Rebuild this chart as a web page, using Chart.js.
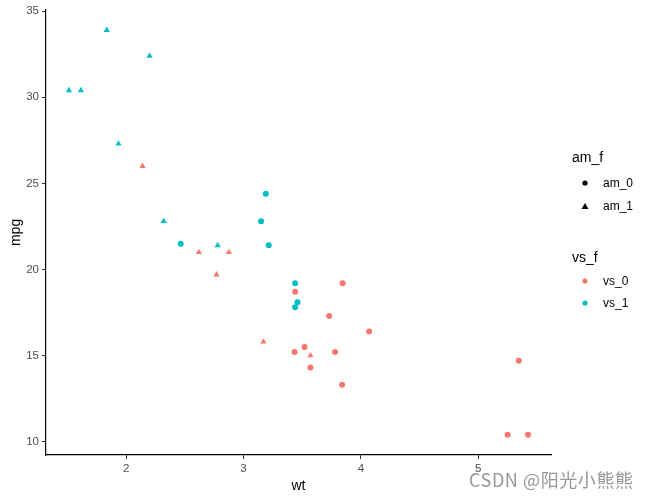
<!DOCTYPE html>
<html><head><meta charset="utf-8">
<script src="https://cdn.jsdelivr.net/npm/chart.js@4/dist/chart.umd.min.js"></script>
<style>html,body{margin:0;padding:0;background:#fff}#wrap{width:650px;height:500px;position:relative}</style>
</head><body><div id="wrap"><canvas id="c" width="650" height="500"></canvas></div>
<script>
// mtcars: weight (wt), miles per gallon (mpg), engine shape (vs), transmission (am)
const wt  = [2.620,2.875,2.320,3.215,3.440,3.460,3.570,3.190,3.150,3.440,3.440,4.070,3.730,3.780,5.250,5.424,5.345,2.200,1.615,1.835,2.465,3.520,3.435,3.840,3.845,1.935,2.140,1.513,3.170,2.770,3.570,2.780];
const mpg = [21.0,21.0,22.8,21.4,18.7,18.1,14.3,24.4,22.8,19.2,17.8,16.4,17.3,15.2,10.4,10.4,14.7,32.4,30.4,33.9,21.5,15.5,15.2,13.3,19.2,27.3,26.0,30.4,15.8,19.7,15.0,21.4];
const vs  = [0,0,1,1,0,1,0,1,1,1,1,0,0,0,0,0,0,1,1,1,1,0,0,0,0,1,0,1,0,0,0,1];
const am  = [1,1,1,0,0,0,0,0,0,0,0,0,0,0,0,0,0,1,1,1,0,0,0,0,0,1,1,1,1,1,1,1];
const xTicks = [2,3,4,5];
const yTicks = [10,15,20,25,30,35];
const vsLevels = ['vs_0','vs_1'];
const amLevels = ['am_0','am_1'];
const vsColors = ['#F8766D','#00BFC4'];
const amShapes = ['circle','triangle'];

const datasets = [];
for (let a = 0; a < 2; a++) for (let v = 0; v < 2; v++) {
  const pts = [];
  for (let i = 0; i < wt.length; i++) if (vs[i] === v && am[i] === a) pts.push({x: wt[i], y: mpg[i]});
  datasets.push({
    label: amLevels[a] + ' ' + vsLevels[v],
    data: pts,
    pointStyle: amShapes[a],
    backgroundColor: vsColors[v],
    borderColor: vsColors[v],
    borderWidth: 0,
    pointRadius: a === 0 ? 3 : 3.6,
    pointHoverRadius: 3
  });
}
const xMin = Math.min(...wt), xMax = Math.max(...wt);
const yMin = Math.min(...mpg), yMax = Math.max(...mpg);
const xPad = (xMax - xMin) * 0.05, yPad = (yMax - yMin) * 0.05;

const textPlugin = {
  id: 'textPlugin',
  afterDraw(chart) {
    const ctx = chart.ctx;
    const ca = chart.chartArea;
    ctx.save();
    ctx.fillStyle = '#000';
    ctx.font = '14px "Liberation Sans", Arial, sans-serif';
    ctx.textAlign = 'center'; ctx.textBaseline = 'middle';
    ctx.fillText('wt', (ca.left + ca.right) / 2, 486);
    ctx.save();
    ctx.translate(16, (ca.top + ca.bottom) / 2);
    ctx.rotate(-Math.PI / 2);
    ctx.fillText('mpg', 0, 0);
    ctx.restore();
    // legends
    ctx.textAlign = 'left';
    ctx.font = '14px "Liberation Sans", Arial, sans-serif';
    ctx.fillText('am_f', 572, 158);
    ctx.fillText('vs_f', 572, 258);
    ctx.font = '12px "Liberation Sans", Arial, sans-serif';
    const amY = [184, 207];
    for (let i = 0; i < 2; i++) {
      ctx.fillStyle = '#000';
      ctx.fillText(amLevels[i], 603, amY[i]);
      ctx.beginPath();
      if (amShapes[i] === 'circle') ctx.arc(585, amY[i] - 1, 2.6, 0, Math.PI * 2);
      else { ctx.moveTo(585, amY[i] - 4); ctx.lineTo(588.5, amY[i] + 2); ctx.lineTo(581.5, amY[i] + 2); ctx.closePath(); }
      ctx.fill();
    }
    const vsY = [282, 304];
    for (let i = 0; i < 2; i++) {
      ctx.fillStyle = '#000';
      ctx.fillText(vsLevels[i], 603, vsY[i]);
      ctx.fillStyle = vsColors[i];
      ctx.beginPath(); ctx.arc(585, vsY[i] - 1, 2.6, 0, Math.PI * 2); ctx.fill();
    }
    // watermark
    const wm = 'CSDN @阳光小熊熊';
    ctx.fillStyle = 'rgba(125,125,125,0.8)';
    ctx.font = '18px "Noto Sans CJK SC", sans-serif';
    const w0 = ctx.measureText(wm).width;
    const sp = Math.max(0, (164 - w0) / (wm.length - 1));
    ctx.letterSpacing = sp.toFixed(2) + 'px';
    ctx.textAlign = 'left';
    ctx.fillText(wm, 469, 480);
    ctx.restore();
  }
};

new Chart(document.getElementById('c'), {
  type: 'scatter',
  data: { datasets },
  options: {
    responsive: false,
    animation: false,
    events: [],
    layout: { padding: { top: 8, right: 99, left: 0, bottom: 0 } },
    plugins: { legend: { display: false }, tooltip: { enabled: false } },
    scales: {
      x: {
        type: 'linear', min: xMin - xPad, max: xMax + xPad,
        afterFit(s) { s.height = 45; },
        afterBuildTicks(s) { s.ticks = xTicks.map(v => ({value: v})); },
        grid: { drawOnChartArea: false, drawTicks: true, tickLength: 4, tickColor: '#333', lineWidth: 1 },
        border: { display: true, color: '#000', width: 1.2 },
        ticks: { color: '#4D4D4D', font: { size: 11.5, family: '"Liberation Sans", Arial, sans-serif' }, padding: 3, maxRotation: 0 }
      },
      y: {
        type: 'linear', min: yMin - yPad, max: yMax + yPad,
        afterFit(s) { s.width = 46; },
        afterBuildTicks(s) { s.ticks = yTicks.map(v => ({value: v})); },
        grid: { drawOnChartArea: false, drawTicks: true, tickLength: 4, tickColor: '#333', lineWidth: 1 },
        border: { display: true, color: '#000', width: 1.2 },
        ticks: { color: '#4D4D4D', font: { size: 11.5, family: '"Liberation Sans", Arial, sans-serif' }, padding: 3 }
      }
    }
  },
  plugins: [textPlugin]
});
</script></body></html>
